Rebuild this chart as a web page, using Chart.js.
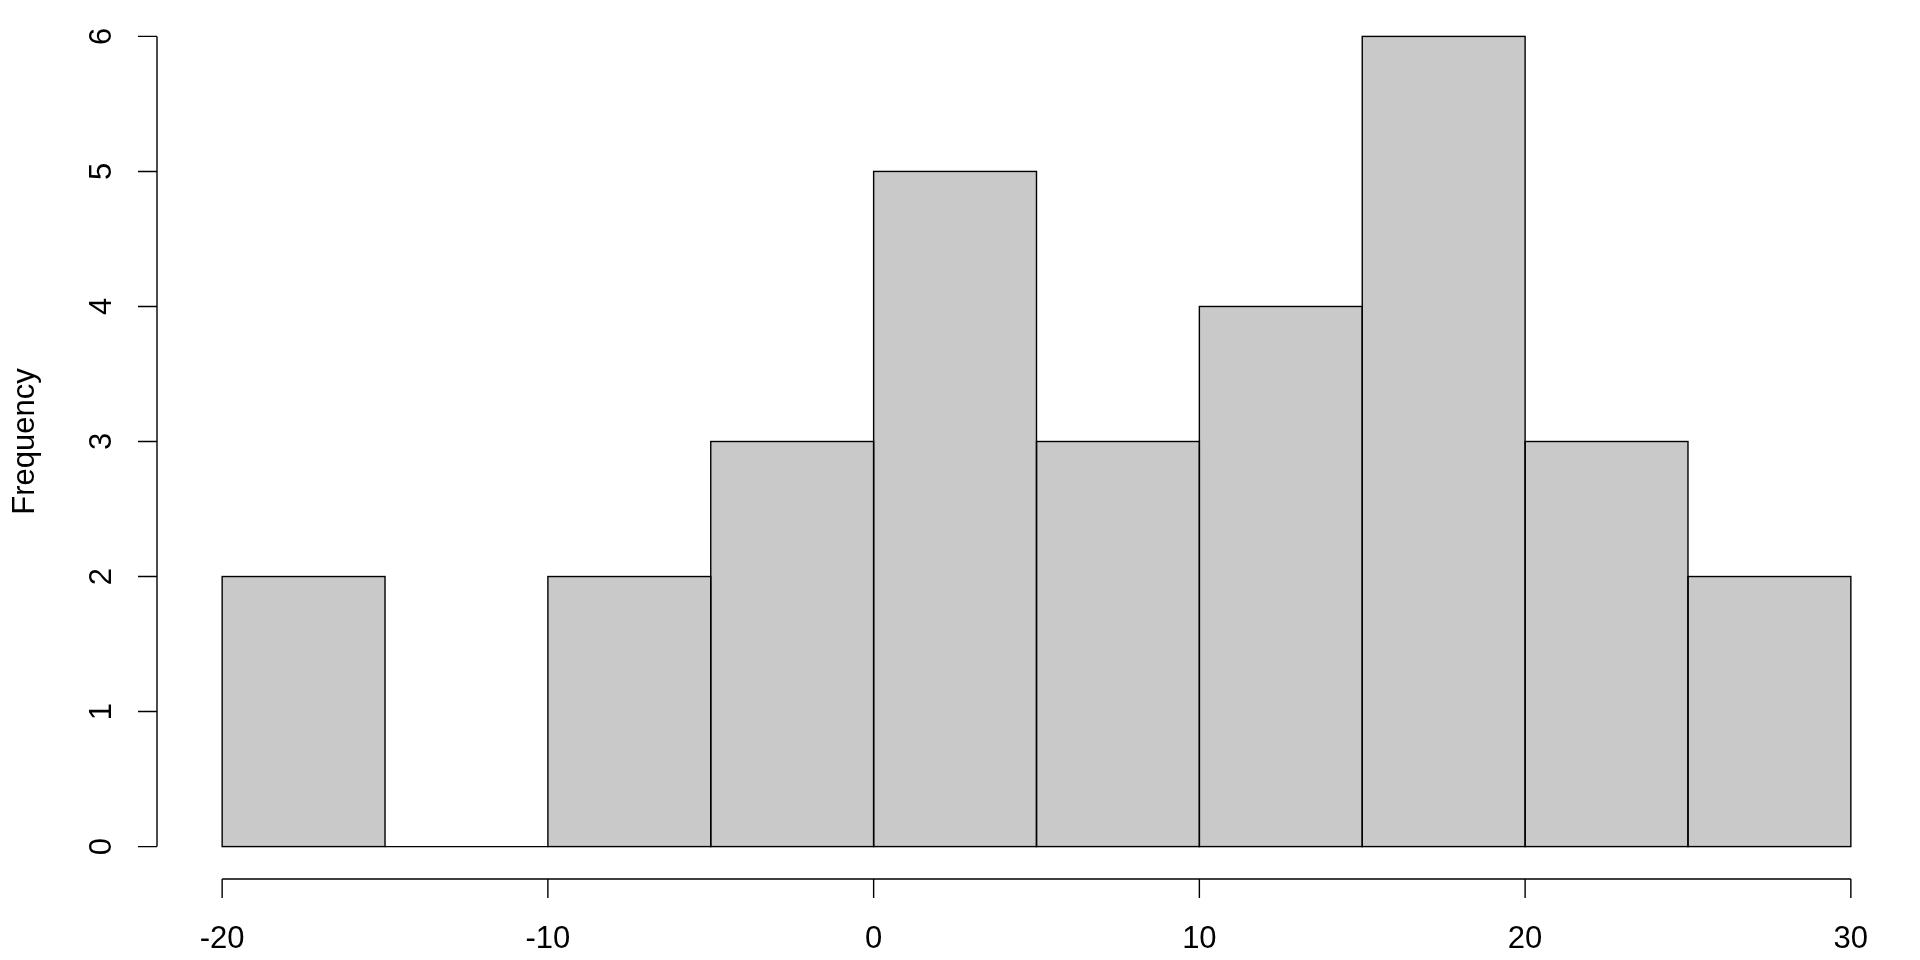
<!DOCTYPE html>
<html>
<head>
<meta charset="utf-8">
<script src="https://cdn.jsdelivr.net/npm/chart.js@4"></script>
<style>
  html, body { margin: 0; padding: 0; background: #fff; }
  #wrap { width: 1920px; height: 960px; }
</style>
</head>
<body>
<div id="wrap"><canvas id="hist"></canvas></div>
<script>
// histogram data (bins of width 5)
const binStarts = [-20, -15, -10, -5, 0, 5, 10, 15, 20, 25];
const binWidth = 5;
const counts = [2, 0, 2, 3, 5, 3, 4, 6, 3, 2];
const xTicks = [-20, -10, 0, 10, 20, 30];
const yTicks = [0, 1, 2, 3, 4, 5, 6];
const yTitle = 'Frequency';

const FONT = '31px "Liberation Sans", Arial, sans-serif';

// R-style axes, tick labels and bar outlines
const baseAxes = {
  id: 'baseAxes',
  afterDatasetsDraw(chart) {
    const ctx = chart.ctx;
    const xs = chart.scales.x, ys = chart.scales.y;
    const area = chart.chartArea;
    ctx.save();
    ctx.strokeStyle = '#000';
    ctx.lineWidth = 1.4;

    // bar outlines (also gives the empty bin its baseline)
    chart.getDatasetMeta(0).data.forEach(bar => {
      const p = bar.getProps(['x', 'y', 'base', 'width'], true);
      ctx.strokeRect(p.x - p.width / 2, Math.min(p.y, p.base), p.width, Math.abs(p.base - p.y));
    });

    // y axis
    const ax = area.left;
    ctx.beginPath();
    ctx.moveTo(ax, ys.getPixelForValue(yTicks[0]));
    ctx.lineTo(ax, ys.getPixelForValue(yTicks[yTicks.length - 1]));
    yTicks.forEach(v => {
      const py = ys.getPixelForValue(v);
      ctx.moveTo(ax, py);
      ctx.lineTo(ax - 19, py);
    });
    // x axis
    const ay = area.bottom;
    ctx.moveTo(xs.getPixelForValue(xTicks[0]), ay);
    ctx.lineTo(xs.getPixelForValue(xTicks[xTicks.length - 1]), ay);
    xTicks.forEach(v => {
      const px = xs.getPixelForValue(v);
      ctx.moveTo(px, ay);
      ctx.lineTo(px, ay + 19);
    });
    ctx.stroke();

    ctx.fillStyle = '#000';
    ctx.font = FONT;
    ctx.textAlign = 'center';
    ctx.textBaseline = 'alphabetic';
    xTicks.forEach(v => {
      ctx.fillText(String(v), xs.getPixelForValue(v), 948);
    });
    yTicks.forEach(v => {
      ctx.save();
      ctx.translate(111, ys.getPixelForValue(v));
      ctx.rotate(-Math.PI / 2);
      ctx.fillText(String(v), 0, 0);
      ctx.restore();
    });
    ctx.save();
    ctx.translate(34, (ys.getPixelForValue(0) + ys.getPixelForValue(6)) / 2);
    ctx.rotate(-Math.PI / 2);
    ctx.fillText(yTitle, 0, 0);
    ctx.restore();
    ctx.restore();
  }
};

new Chart(document.getElementById('hist'), {
  type: 'bar',
  data: {
    datasets: [{
      data: binStarts.map((s, i) => ({ x: s + binWidth / 2, y: counts[i] })),
      backgroundColor: '#c9c9c9',
      borderWidth: 0,
      barPercentage: 1,
      categoryPercentage: 1,
      inflateAmount: 0
    }]
  },
  options: {
    responsive: true,
    maintainAspectRatio: false,
    animation: false,
    events: [],
    layout: { padding: { left: 157, right: 4, top: 4, bottom: 81 } },
    plugins: { legend: { display: false }, tooltip: { enabled: false } },
    scales: {
      x: {
        type: 'linear', min: -22, max: 32, display: false, offset: false,
        // keep the bar ruler on the bin spacing, not on odd auto ticks
        afterBuildTicks: scale => { scale.ticks = xTicks.map(v => ({ value: v })); }
      },
      y: { min: -0.24, max: 6.24, display: false }
    }
  },
  plugins: [baseAxes]
});
</script>
</body>
</html>
